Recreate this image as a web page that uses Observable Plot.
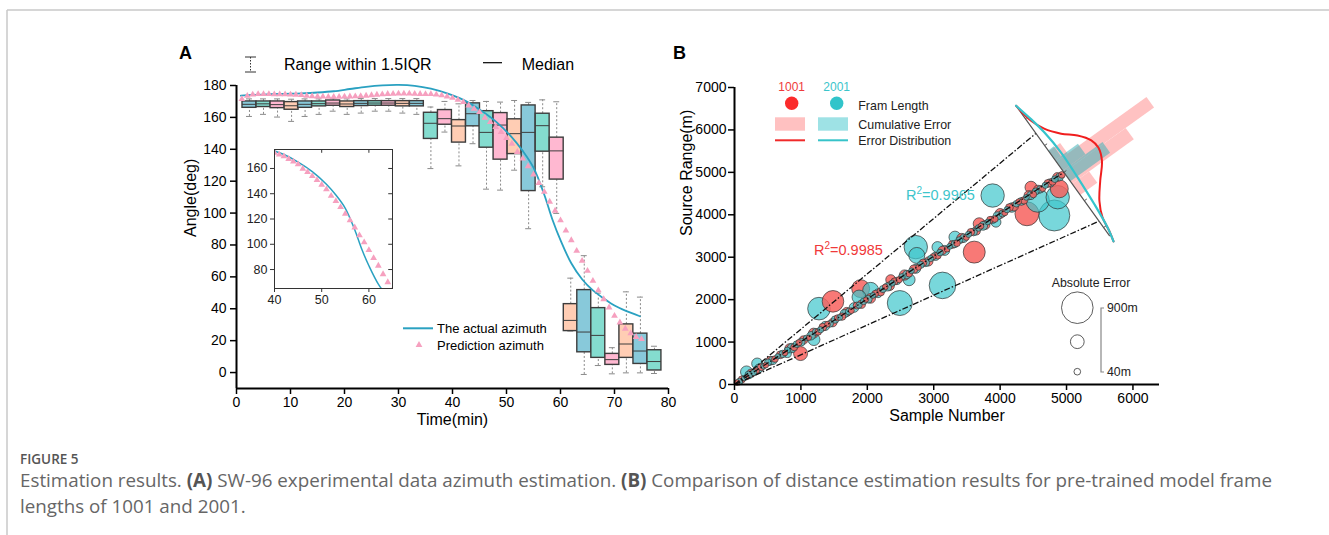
<!DOCTYPE html>
<html>
<head>
<meta charset="utf-8">
<script src="https://cdn.jsdelivr.net/npm/d3@7"></script>
<script src="https://cdn.jsdelivr.net/npm/@observablehq/plot@0.6"></script>
<style>
  html, body { margin: 0; padding: 0; background: #fff; }
  #page { position: relative; width: 1329px; height: 535px; overflow: hidden; background: #fff; }
  .pos { position: absolute; }
  .cap { position: absolute; left: 20px; font-family: "Open Sans", "Noto Sans", sans-serif; color: #666; white-space: nowrap; }
  .cap b { color: #555; font-weight: 700; }
</style>
</head>
<body>
<div id="page"></div>
<script>
// ---------------- Panel A data ----------------
const xTicksA = [0, 10, 20, 30, 40, 50, 60, 70, 80];
const yTicksA = [0, 20, 40, 60, 80, 100, 120, 140, 160, 180];
const insetXTicks = [40, 50, 60];
const insetYTicks = [80, 100, 120, 140, 160];

const boxTime = [2.4,5.0,7.6,10.2,12.7,15.3,17.9,20.5,23.1,25.7,28.2,30.8,33.4,36.0,38.6,41.2,43.8,46.3,48.9,51.5,54.1,56.7,59.3,61.9,64.4,67.0,69.6,72.2,74.8,77.4];
const boxQ1 = [166,166.5,165.8,164.8,166,166.9,167.3,166.5,167.1,167.3,167.3,166.9,166.9,146.5,155.4,144.2,154.4,141,133.5,137,113.8,138.5,121,26,12.7,9.2,4.8,9.2,5.4,1.3];
const boxMedian = [168.2,168.5,168,167.3,168.2,168.6,169,168.4,168.8,169,169,168.8,168.8,156.3,159.2,154.6,162.3,150.6,155.2,149.8,150.6,154.8,139,32.7,25.4,23.3,8.1,17.9,13.5,6.9];
const boxQ3 = [170,170,170,169.6,170,170,170.6,170,170.2,170.2,170.2,170.2,170.2,162.9,164.6,158.3,168.8,163.9,162.7,158.8,167.5,162.3,147.3,42.9,51.7,40.4,11.7,30.2,24.4,14];
const boxLow = [160.6,161.9,160.2,157.5,160.6,161.9,163.9,161.9,162.7,163.9,163.9,162.7,161.9,127.9,150.8,129.6,143.5,115,114.4,126.9,90.2,116.5,99.8,26,-1.2,4.4,-0.8,-0.2,-0.2,-0.6];
const boxHigh = [171.6,171.6,171.6,171.4,171.6,171.6,172,171.6,171.8,171.8,171.8,171.8,171.8,166.5,170,168.5,170.6,170,169.6,170.6,169.4,171,169.8,59.2,73.3,49.8,15.6,50.6,47.3,16.5];
const boxPalette = ["#88c9da", "#84dccf", "#ffb8d1", "#ffcdb4"];

const actualTime = [0.8,3,6,9,12,15,18,21,24,27,30,33,36,39,42,45,48,51,53,55,57,58.5,60,62,64,66,68,70,72,74.7];
const actualAngle = [173.6,174.1,174.5,174.8,175.1,175.6,176.4,177.8,179.2,180.1,180.4,179.8,178,175,171,165,157.5,147.5,139,128.5,111.5,96,83,68.5,58.5,51.5,46.5,42,38.8,35.3];

const predTime = [1,2,3,4,5,6,7,8,9,10,11,12,13,14,15,16,17,18,19,20,21,22,23,24,25,26,27,28,29,30,31,32,33,34,35,36,37,38,39,40,41,42,43,44,45,46,47,48,49,50,51,52,53,54,55,56,57,58,59,60,61,62,63,64,65,66,67,68,69,70,71,72,73,74,75];
const predAngle = [171.5,173.5,174.3,174.6,174.6,174.6,174.5,174.5,174.4,174.3,174.2,174.0,173.6,173.3,173.1,173.0,172.9,172.9,172.9,173.0,173.1,173.2,173.4,173.6,173.9,174.2,174.5,174.7,174.8,174.9,174.9,174.9,174.8,174.7,174.6,174.6,174.3,173.8,173.1,172.3,171.0,169.6,167.5,165.4,163.3,159.8,157.1,153.9,150.8,147.1,143.5,138.3,134.2,129.4,124.2,118.9,113.3,107.1,101.5,95.4,89.0,83.0,76.3,70.0,63.8,57.5,51.5,46.0,40.8,35.6,31.4,27.5,24.6,22.3,21.0];

// ---------------- Panel B data ----------------
const xTicksB = [0, 1000, 2000, 3000, 4000, 5000, 6000];
const yTicksB = [0, 1000, 2000, 3000, 4000, 5000, 6000, 7000];
// [sample number, source range (m), absolute error (m)]
const chain1001 = [[40,45,30],[110,120,45],[180,170,25],[250,265,60],[330,320,35],[400,410,50],[470,455,28],[540,560,70],[610,600,40],[690,700,55],[760,745,30],[830,850,80],[900,880,45],[970,985,35],[1040,1050,60],[1120,1100,25],[1190,1210,90],[1260,1240,40],[1330,1350,55],[1400,1420,30],[1480,1460,65],[1550,1570,35],[1620,1600,50],[1690,1710,75],[1760,1740,30],[1840,1860,45],[1910,1890,60],[1980,2000,25],[2050,2030,85],[2120,2140,40],[2200,2180,55],[2270,2300,30],[2340,2320,70],[2410,2430,45],[2480,2470,35],[2560,2580,95],[2630,2610,40],[2700,2720,60],[2770,2760,30],[2840,2870,50],[2920,2900,75],[2990,3010,35],[3060,3040,45],[3130,3160,65],[3200,3190,30],[3280,3300,55],[3350,3330,40],[3420,3450,80],[3490,3470,35],[3560,3590,50],[3640,3620,60],[3710,3730,30],[3780,3760,70],[3850,3880,45],[3920,3900,40],[4000,4030,90],[4070,4050,35],[4140,4170,55],[4210,4190,65],[4280,4310,30],[4360,4340,50],[4430,4460,75],[4500,4480,40],[4570,4600,60],[4640,4620,35],[4720,4740,55],[4790,4780,45],[4860,4890,70],[4930,4940,40]];
const bubbles1001 = [[995,729,176],[1483,1960,420],[1900,2259,290],[2353,2470,90],[3610,3120,435],[3685,3788,130],[4404,4024,518],[4465,4649,130],[4891,4612,290]];
const chain2001 = [[75,70,40],[145,150,25],[215,225,55],[290,280,35],[365,375,70],[435,430,30],[505,520,45],[575,565,60],[650,665,25],[725,720,50],[795,810,35],[865,860,80],[935,950,40],[1005,1000,55],[1080,1095,30],[1155,1150,65],[1225,1240,45],[1295,1290,35],[1365,1380,75],[1440,1430,40],[1515,1530,50],[1585,1580,30],[1655,1670,60],[1725,1720,45],[1800,1815,85],[1875,1870,35],[1945,1960,40],[2015,2010,55],[2085,2100,30],[2160,2150,70],[2235,2250,45],[2305,2300,60],[2375,2390,35],[2445,2440,50],[2520,2535,40],[2595,2590,65],[2665,2680,30],[2735,2730,75],[2805,2820,45],[2880,2870,55],[2955,2970,35],[3025,3020,60],[3095,3110,40],[3165,3160,90],[3240,3255,30],[3315,3310,50],[3385,3400,45],[3455,3450,65],[3525,3540,35],[3600,3595,55],[3675,3690,40],[3745,3740,70],[3815,3830,30],[3885,3880,50],[3960,3975,60],[4035,4030,45],[4105,4120,35],[4175,4170,80],[4245,4260,40],[4320,4315,55],[4395,4410,30],[4465,4460,65],[4535,4550,45],[4605,4600,50],[4680,4695,35],[4755,4750,60],[4825,4840,40],[4895,4890,55]];
const bubbles2001 = [[181,296,130],[342,494,110],[795,729,58],[1196,1059,130],[1272,1788,460],[1875,2061,176],[2051,2219,230],[2489,1920,563],[2629,2470,130],[2730,3238,493],[2745,3042,230],[3057,3238,110],[3132,2336,637],[3320,3473,130],[3887,4454,493],[3937,3826,90],[4565,4336,493],[4816,3984,865],[4867,4414,493]];
const sizeLegendErrors = [900, 170, 40];

// error-distribution panel: axis end points (data) and readings along it
const distStart = [4240, 6570];
const distEnd = [5700, 3390];
const distTicks = [16, 49, 82, 117, 150];               // positions along the axis (px)
const pinkEdges = [56, 69, 82, 96, 110], pinkHeights = [14, 111, 76, 21];
const tealEdges = [55, 67, 80, 93], tealHeights = [7, 28, 49];
const redDistS = [0, 21, 35, 49, 60, 72, 82, 95, 110, 126, 141, 156, 167];
const redDistH = [0, 3.4, 9.4, 20.3, 32.6, 40.9, 42.4, 37.5, 24.6, 12.1, 5.1, 2.7, 0];
const cyanDistS = [0, 20, 38, 64, 94, 126, 152, 167];
const cyanDistH = [0, 4.4, 7.4, 9.2, 8.2, 6.1, 3.3, 0];
const guideEnds = [[4540, 5920], [4960, 5000], [5490, 3850]];

// ---------------- helpers ----------------
const FONT = "'Liberation Sans', Arial, Helvetica, sans-serif";
const page = document.getElementById("page");
function place(node, left, top) {
  const d = document.createElement("div");
  d.className = "pos"; d.style.left = left + "px"; d.style.top = top + "px";
  d.appendChild(node); page.appendChild(d); return d;
}

// ---------------- Panel A ----------------
const boxes = boxTime.map((t, i) => ({t, q1: boxQ1[i], med: boxMedian[i], q3: boxQ3[i], lo: boxLow[i], hi: boxHigh[i], c: boxPalette[i % 4]}));
const actual = actualTime.map((t, i) => ({t, v: actualAngle[i]}));
const pred = predTime.map((t, i) => ({t, v: predAngle[i]}));
const HALF = 1.29, CAP = 0.55;
const BLUE = "#2aa1c1", TRI = "#f6a0bf";

const plotA = Plot.plot({
  width: 520, height: 400, marginLeft: 66, marginRight: 22, marginTop: 45, marginBottom: 52,
  style: {fontFamily: FONT, fontSize: "14px", color: "#000", background: "transparent"},
  x: {domain: [0, 80]},
  y: {domain: [-10, 180]},
  color: {type: "identity"},
  marks: [
    Plot.ruleX(boxes, {x: "t", y1: "lo", y2: "q1", stroke: "#8a8a8a", strokeDasharray: "2,2"}),
    Plot.ruleX(boxes, {x: "t", y1: "q3", y2: "hi", stroke: "#8a8a8a", strokeDasharray: "2,2"}),
    Plot.ruleY(boxes, {y: "lo", x1: d => d.t - CAP, x2: d => d.t + CAP, stroke: "#8a8a8a"}),
    Plot.ruleY(boxes, {y: "hi", x1: d => d.t - CAP, x2: d => d.t + CAP, stroke: "#8a8a8a"}),
    Plot.rect(boxes, {x1: d => d.t - HALF, x2: d => d.t + HALF, y1: "q1", y2: "q3", fill: "c", stroke: "#3d3d3d", strokeWidth: 1.4}),
    Plot.ruleY(boxes, {y: "med", x1: d => d.t - HALF, x2: d => d.t + HALF, stroke: "#3d3d3d", strokeWidth: 1}),
    Plot.line(actual, {x: "t", y: "v", stroke: BLUE, strokeWidth: 1.8, curve: "catmull-rom"}),
    Plot.dot(pred, {x: "t", y: "v", symbol: "triangle", r: 2.5, fill: TRI, stroke: null}),
    Plot.axisX({ticks: xTicksA, tickSize: 6, tickPadding: 3, label: null, strokeWidth: 1.5, fontSize: 14}),
    Plot.axisY({ticks: yTicksA, tickSize: 6, tickPadding: 4, label: null, strokeWidth: 1.5, fontSize: 14}),
    Plot.ruleY([-10], {stroke: "#000", strokeWidth: 2}),
    Plot.ruleX([0], {y1: -10, y2: 180, stroke: "#000", strokeWidth: 2}),
    Plot.text(["Time(min)"], {frameAnchor: "bottom", dy: 36, fontSize: 16, fill: "#000"}),
    Plot.text(["Angle(deg)"], {frameAnchor: "left", dx: -46, rotate: -90, fontSize: 16, fill: "#000"})
  ]
});
place(plotA, 170, 40);

// inset (same series, zoomed)
const plotInset = Plot.plot({
  width: 172, height: 178, marginLeft: 44, marginRight: 10, marginTop: 9, marginBottom: 30,
  style: {fontFamily: FONT, fontSize: "12.5px", color: "#222", background: "transparent"},
  x: {domain: [40, 65]},
  y: {domain: [65, 175]},
  marks: [
    Plot.frame({fill: "white", stroke: null}),
    Plot.line(actual.filter(d => d.t >= 38), {x: "t", y: "v", stroke: BLUE, strokeWidth: 1.5, curve: "catmull-rom", clip: true}),
    Plot.dot(pred.filter(d => d.t >= 40), {x: "t", y: "v", symbol: "triangle", r: 2.5, fill: TRI, stroke: null, clip: true}),
    Plot.frame({stroke: "#333", strokeWidth: 1}),
    Plot.axisX({ticks: insetXTicks, tickSize: 4, tickPadding: 3, label: null, stroke: "#333"}),
    Plot.axisY({ticks: insetYTicks, tickSize: 4, tickPadding: 3, label: null, stroke: "#333"}),
    Plot.ruleX(insetXTicks.slice(1), {y1: 175, y2: 172, stroke: "#333"}),
    Plot.ruleY(insetYTicks, {x1: 65, x2: 64.2, stroke: "#333"})
  ]
});
place(plotInset, 230, 140);

// ---------------- Panel B ----------------
const B_W = 502, B_H = 400, B_ML = 57, B_MR = 20, B_MT = 47, B_MB = 56;
const xDomB = [0, 6400], yDomB = [0, 7000];
const kx = (B_W - B_ML - B_MR) / (xDomB[1] - xDomB[0]);
const ky = (B_H - B_MT - B_MB) / (yDomB[1] - yDomB[0]);
const RED = "#f7625e", CYAN = "#3fc6cc";

function distPoint(s, h) {
  const ax = (distEnd[0] - distStart[0]) * kx, ay = -(distEnd[1] - distStart[1]) * ky;
  const L = Math.hypot(ax, ay), dx = ax / L, dy = ay / L, nx = dy, ny = -dx;
  const sx = s * dx + h * nx, sy = s * dy + h * ny;
  return {x: distStart[0] + sx / kx, y: distStart[1] - sy / ky};
}
function bars(edges, heights, tag) {
  const out = [];
  heights.forEach((h, i) => {
    const s0 = edges[i], s1 = edges[i + 1];
    [[s0, 0], [s1, 0], [s1, h], [s0, h], [s0, 0]].forEach(([s, hh]) => out.push({...distPoint(s, hh), id: tag + i}));
  });
  return out;
}
const pinkBars = bars(pinkEdges, pinkHeights, "p");
const tealBars = bars(tealEdges, tealHeights, "t");
const redCurve = redDistS.map((s, i) => distPoint(s, redDistH[i]));
const cyanCurve = cyanDistS.map((s, i) => distPoint(s, cyanDistH[i]));
const axisLine = [distPoint(2, 0), distPoint(160, 0)];
const axisTicks = distTicks.map(s => ({a: distPoint(s, 0), b: distPoint(s, 3)}));

const points = [
  ...chain1001.map(d => ({x: d[0], y: d[1], e: d[2], s: "1001"})),
  ...bubbles1001.map(d => ({x: d[0], y: d[1], e: d[2], s: "1001"})),
  ...chain2001.map(d => ({x: d[0], y: d[1], e: d[2], s: "2001"})),
  ...bubbles2001.map(d => ({x: d[0], y: d[1], e: d[2], s: "2001"}))
];

const plotB = Plot.plot({
  width: B_W, height: B_H, marginLeft: B_ML, marginRight: B_MR, marginTop: B_MT, marginBottom: B_MB,
  style: {fontFamily: FONT, fontSize: "14px", color: "#000", background: "transparent"},
  x: {domain: xDomB},
  y: {domain: yDomB},
  r: {type: "sqrt", domain: [0, 900], range: [0, 15.8]},
  color: {type: "identity"},
  marks: [
    Plot.line(pinkBars, {x: "x", y: "y", z: "id", fill: "#ffc2c2", stroke: null, curve: "linear"}),
    Plot.line(tealBars, {x: "x", y: "y", z: "id", fill: "#3fb3b8", fillOpacity: 0.55, stroke: null, curve: "linear"}),
    Plot.dot(points, {x: "x", y: "y", r: "e", fill: d => d.s === "1001" ? RED : CYAN,
      fillOpacity: d => d.s === "1001" ? 0.85 : 0.7, stroke: "#333", strokeWidth: 0.7}),
    Plot.link(guideEnds, {x1: () => 0, y1: () => 0, x2: d => d[0], y2: d => d[1], stroke: "#111", strokeWidth: 1.3, strokeDasharray: "6,2,1.5,2"}),
    Plot.line(axisLine, {x: "x", y: "y", stroke: "#555", strokeWidth: 1.2}),
    Plot.link(axisTicks, {x1: d => d.a.x, y1: d => d.a.y, x2: d => d.b.x, y2: d => d.b.y, stroke: "#555", strokeWidth: 1}),
    Plot.line(redCurve, {x: "x", y: "y", stroke: "#f01e1e", strokeWidth: 2, curve: "catmull-rom"}),
    Plot.line(cyanCurve, {x: "x", y: "y", stroke: "#35c4cc", strokeWidth: 2.2, curve: "catmull-rom"}),
    Plot.axisX({ticks: xTicksB, tickSize: 6, tickPadding: 3, tickFormat: "d", label: null, strokeWidth: 1.5, fontSize: 14}),
    Plot.axisY({ticks: yTicksB, tickSize: 6, tickPadding: 2, tickFormat: "d", label: null, strokeWidth: 1.5, fontSize: 14}),
    Plot.ruleY([0], {stroke: "#000", strokeWidth: 2}),
    Plot.ruleX([0], {y1: 0, y2: 7000, stroke: "#000", strokeWidth: 2}),
    Plot.text(["Sample Number"], {frameAnchor: "bottom", dy: 36, fontSize: 16, fill: "#000"}),
    Plot.text(["Source Range(m)"], {frameAnchor: "left", dx: -48, rotate: -90, fontSize: 16, fill: "#000"})
  ]
});
place(plotB, 677, 40);

// ---------------- overlay: frame, panel letters, legends ----------------
const ov = d3.create("svg").attr("width", 1329).attr("height", 535)
  .style("font-family", FONT).style("pointer-events", "none");
ov.append("path").attr("d", "M7,10H1329M7,10V535").attr("stroke", "#c9c9c9").attr("stroke-width", 1.5).attr("fill", "none");
function txt(x, y, s, size, opts = {}) {
  const t = ov.append("text").attr("x", x).attr("y", y).attr("font-size", size).attr("fill", opts.fill || "#000")
    .attr("text-anchor", opts.anchor || "start");
  if (opts.weight) t.attr("font-weight", opts.weight);
  t.text(s); return t;
}
txt(179, 59, "A", 18, {weight: 700});
txt(673, 59, "B", 18, {weight: 700});

// legend A top
ov.append("path").attr("d", "M250.5,57V72").attr("stroke", "#333").attr("stroke-dasharray", "1.5,1.5");
ov.append("path").attr("d", "M245,57H256M245,72H256").attr("stroke", "#333").attr("stroke-width", 1.2);
txt(284, 70, "Range within 1.5IQR", 16);
ov.append("path").attr("d", "M483,62.7H502").attr("stroke", "#000").attr("stroke-width", 1.2);
txt(521.7, 70, "Median", 16);

// legend A lower
ov.append("path").attr("d", "M403,328.3H433").attr("stroke", BLUE).attr("stroke-width", 2);
txt(437, 332.8, "The actual azimuth", 13);
ov.append("path").attr("d", d3.symbol(d3.symbolTriangle, Math.PI * 2.5 * 2.5)()).attr("transform", "translate(419,345)").attr("fill", TRI);
txt(437, 349.6, "Prediction azimuth", 13);

// legend B
txt(791.7, 91.3, "1001", 12, {fill: "#ef3b3b", anchor: "middle"});
txt(836.7, 91.3, "2001", 12, {fill: "#3bc5cb", anchor: "middle"});
ov.append("circle").attr("cx", 791.7).attr("cy", 103.3).attr("r", 6.7).attr("fill", "#fb2b2b");
ov.append("circle").attr("cx", 836.7).attr("cy", 103.3).attr("r", 6.7).attr("fill", "#31c4ca");
txt(858.3, 110.2, "Fram Length", 12.4, {fill: "#222"});
ov.append("rect").attr("x", 775).attr("y", 117.3).attr("width", 30).attr("height", 13.4).attr("fill", "#ffc1c1");
ov.append("rect").attr("x", 818).attr("y", 117.3).attr("width", 30).attr("height", 13.4).attr("fill", "#9ee2e5");
txt(858.3, 128.6, "Cumulative Error", 12.4, {fill: "#222"});
ov.append("path").attr("d", "M775,140.3H805").attr("stroke", "#f02a2a").attr("stroke-width", 2);
ov.append("path").attr("d", "M818,140.3H848").attr("stroke", "#36c3c9").attr("stroke-width", 2);
txt(858.3, 145.3, "Error Distribution", 12.4, {fill: "#222"});

// R² labels
const r1 = txt(906, 200, "R", 14.5, {fill: "#3ec5cb"});
r1.append("tspan").attr("dy", -6).attr("font-size", 10).text("2");
r1.append("tspan").attr("dy", 6).text("=0.9965");
const r2 = txt(814, 255, "R", 14.5, {fill: "#f0393a"});
r2.append("tspan").attr("dy", -6).attr("font-size", 10).text("2");
r2.append("tspan").attr("dy", 6).text("=0.9985");

// size legend (radii from the panel's r scale)
const rScale = plotB.scale("r");
txt(1051.7, 287, "Absolute Error", 12.3, {fill: "#222"});
const sizeY = [307.7, 341.7, 371.7];
sizeLegendErrors.forEach((e, i) => {
  ov.append("circle").attr("cx", 1077.3).attr("cy", sizeY[i]).attr("r", rScale.apply(e)).attr("fill", "none").attr("stroke", "#333").attr("stroke-width", 0.8);
});
ov.append("path").attr("d", "M1104,308H1101V372H1104").attr("stroke", "#888").attr("stroke-width", 1.2).attr("fill", "none");
txt(1107, 312.3, "900m", 12.3, {fill: "#222"});
txt(1107, 376.3, "40m", 12.3, {fill: "#222"});

place(ov.node(), 0, 0);

// ---------------- caption ----------------
const c1 = document.createElement("div");
c1.className = "cap"; c1.style.top = "450px"; c1.style.fontSize = "13.5px"; c1.style.fontWeight = "600"; c1.style.color = "#555";
c1.textContent = "FIGURE 5";
page.appendChild(c1);
const c2 = document.createElement("div");
c2.className = "cap"; c2.style.top = "467px"; c2.style.fontSize = "18.8px"; c2.style.lineHeight = "26px";
c2.innerHTML = "Estimation results. <b>(A)</b> SW-96 experimental data azimuth estimation. <b>(B)</b> Comparison of distance estimation results for pre-trained model frame<br>lengths of 1001 and 2001.";
page.appendChild(c2);
</script>
</body>
</html>
